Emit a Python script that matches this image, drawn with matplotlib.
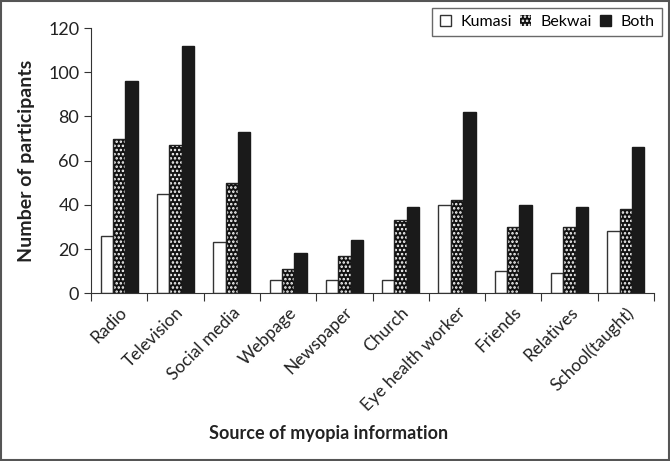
import numpy as np
import matplotlib.pyplot as plt
from matplotlib.patches import Rectangle
from matplotlib.transforms import ScaledTranslation

sources = ["Radio", "Television", "Social media", "Webpage", "Newspaper", "Church",
           "Eye health worker", "Friends", "Relatives", "School(taught)"]
kumasi = [26, 45, 23, 6, 6, 6, 40, 10, 9, 28]
bekwai = [70, 67, 50, 11, 17, 33, 42, 30, 30, 38]
both = [96, 112, 73, 18, 24, 39, 82, 40, 39, 66]

plt.rcParams['font.family'] = ['Lato', 'DejaVu Sans']
plt.rcParams['hatch.linewidth'] = 1.2

fig = plt.figure(figsize=(6.7, 4.61), dpi=100)
ax = fig.add_axes([0.136, 0.364, 0.840, 0.575])

x = np.arange(len(sources))
w = 0.22
ax.bar(x - w, kumasi, w, color="white", edgecolor="#333333", lw=1)
# dotted bars: black fill with white hatch, outline drawn again on top
ax.bar(x, bekwai, w, color="#111111", edgecolor="white", hatch="....", lw=0)
ax.bar(x, bekwai, w, color="none", edgecolor="#222222", lw=1)
ax.bar(x + w, both, w, color="#1a1a1a", edgecolor="#1a1a1a", lw=1)

ax.set_xlim(-0.5, len(sources) - 0.5)
ax.set_ylim(0, 120)
ax.set_yticks(range(0, 121, 20))
ax.set_xticks(np.arange(len(sources) + 1) - 0.5, minor=False)
ax.set_xticklabels([])
ax.set_xticks(x, minor=True)
ax.set_xticklabels(sources, minor=True, rotation=45, ha="right", rotation_mode="anchor",
                   fontsize=12.5, color="#222222")
shift = ScaledTranslation(0.15, 0.03, fig.dpi_scale_trans)
for lab in ax.get_xticklabels(minor=True):
    lab.set_transform(lab.get_transform() + shift)
ax.tick_params(axis="x", which="minor", length=0, pad=8)
ax.tick_params(axis="x", which="major", length=6, direction="out", color="#333333")
ax.tick_params(axis="y", length=5, direction="out", color="#333333", labelsize=13,
               labelcolor="#222222")
for s in ["top", "right"]:
    ax.spines[s].set_visible(False)
for s in ["left", "bottom"]:
    ax.spines[s].set_color("#333333")

ax.set_ylabel("Number of participants", fontsize=14, fontweight="bold", color="#222222")
ax.yaxis.set_label_coords(-0.10, 0.5)
fig.text(0.49, 0.06, "Source of myopia information", fontsize=13, fontweight="bold",
         color="#222222", ha="center", va="center")

h1 = Rectangle((0, 0), 1, 1, fc="white", ec="#333333", lw=1)
h2 = Rectangle((0, 0), 1, 1, fc="#111111", ec="white", hatch="....", lw=0)
h3 = Rectangle((0, 0), 1, 1, fc="#1a1a1a", ec="#1a1a1a", lw=1)
leg = fig.legend([h1, h2, h3], ["Kumasi", "Bekwai", "Both"], ncol=3,
                 loc="upper right", bbox_to_anchor=(0.988, 0.983), borderaxespad=0,
                 fancybox=False, edgecolor="#444444", handlelength=0.7,
                 handleheight=0.7, handletextpad=0.6, columnspacing=0.5,
                 fontsize=11.5, borderpad=0.45)
leg.get_frame().set_linewidth(1)

fig.patches.append(Rectangle((0.002, 0.002), 0.996, 0.996, transform=fig.transFigure,
                             fill=False, ec="#555555", lw=1.5))

fig.savefig("out.png", dpi=100)
